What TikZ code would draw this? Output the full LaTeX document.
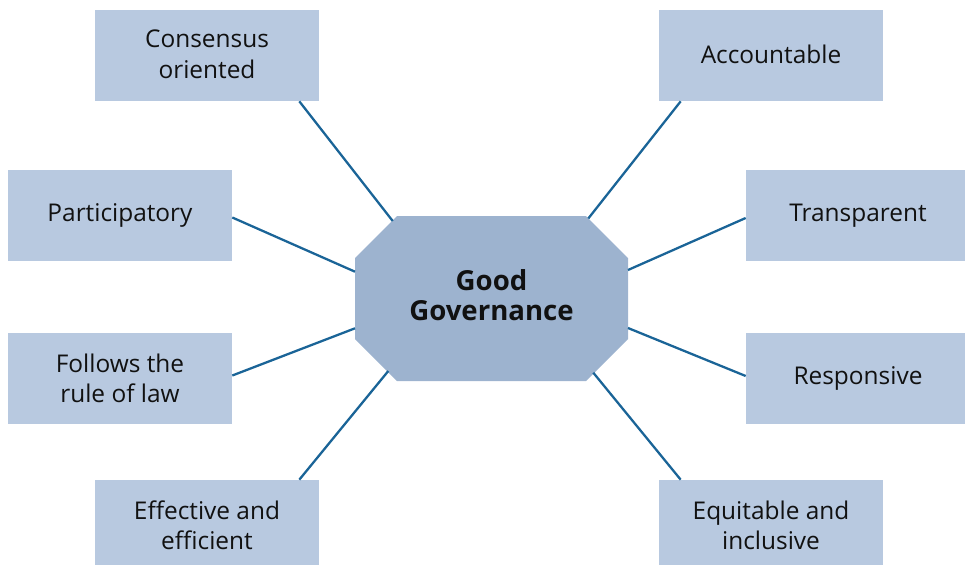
\documentclass[tikz,border=0pt]{standalone}
\usepackage{fontspec}
\setmainfont{Open Sans}
\definecolor{boxfill}{HTML}{B8C9E0}
\definecolor{octfill}{HTML}{9DB3CF}
\definecolor{linkcol}{HTML}{1A6497}
\definecolor{txt}{HTML}{111111}
\begin{document}
\begin{tikzpicture}[x=0.02cm,y=-0.02cm,
  topic/.style={fill=boxfill, draw=none, minimum width=4.48cm, minimum height=1.82cm,
    inner sep=0pt, align=center, text=txt, font=\fontsize{13.9pt}{17.2pt}\selectfont},
  link/.style={draw=linkcol, line width=1.3pt}]
\useasboundingbox (0,0) rectangle (965,565);
\clip (0,0) rectangle (965,565);
% central octagon
\fill[octfill] (355,258) -- (397,216) -- (586,216) -- (628,258) -- (628,339) -- (586,381) -- (397,381) -- (355,339) -- cycle;
\node[align=center, text=txt, font=\fontsize{15.7pt}{17.2pt}\selectfont\bfseries] (gg) at (491.5,295) {Good\\Governance};
% attachment points on the octagon
\coordinate (oc) at (392.7,221);
\coordinate (oa) at (588.3,218.5);
\coordinate (op) at (355,271.7);
\coordinate (ot) at (628,270);
\coordinate (or) at (355,328.3);
\coordinate (os) at (628,328);
\coordinate (oe) at (388.3,371);
\coordinate (oq) at (593.3,372.7);
% boxes
\node[topic] (cons) at (207,55.5) {\raisebox{0.05cm}{\shortstack{Consensus\\[0.14cm]oriented}}};
\node[topic] (acc) at (771,55.5) {\raisebox{0.06cm}{Accountable}};
\node[topic] (part) at (120,215.5) {Participatory};
\node[topic] (trans) at (858,215.5) {Transparent};
\node[topic] (rule) at (120,378.5) {Follows the\\rule of law};
\node[topic] (resp) at (858,378.5) {Responsive};
\node[topic] (eff) at (207,525.5) {Effective and\\efficient};
\node[topic] (equ) at (771,525.5) {Equitable and\\inclusive};
% connectors
\draw[link] ([xshift=-0.4cm]cons.south east) -- (oc);
\draw[link] ([xshift=0.44cm]acc.south west) -- (oa);
\draw[link] ([yshift=-0.04cm]part.east) -- (op);
\draw[link] ([yshift=-0.05cm]trans.west) -- (ot);
\draw[link] ([yshift=0.06cm]rule.east) -- (or);
\draw[link] ([yshift=0.05cm]resp.west) -- (os);
\draw[link] ([xshift=-0.4cm]eff.north east) -- (oe);
\draw[link] ([xshift=0.44cm]equ.north west) -- (oq);
\end{tikzpicture}
\end{document}
